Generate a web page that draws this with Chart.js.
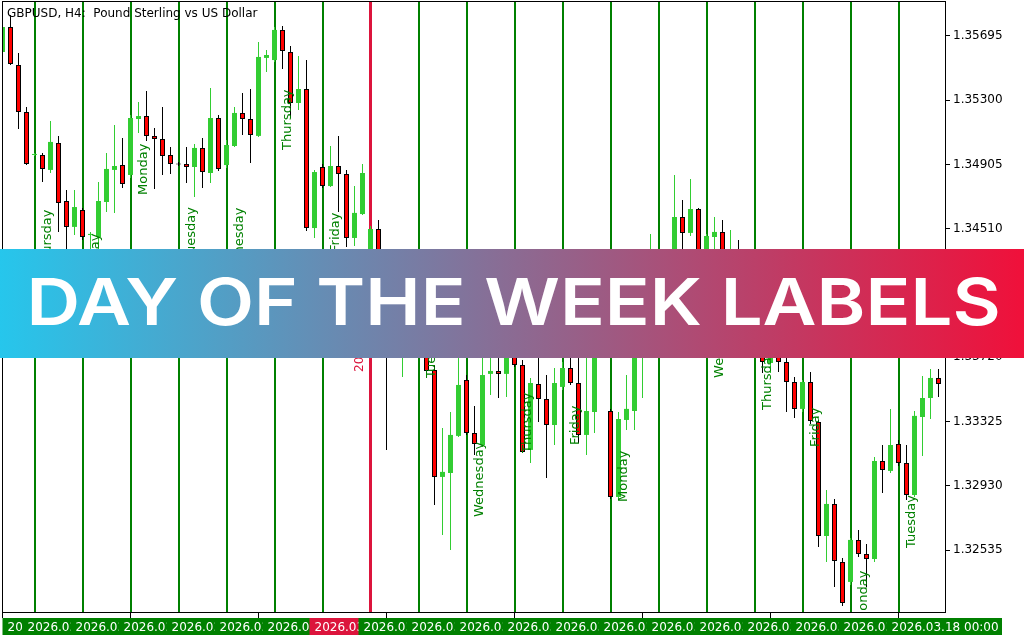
<!DOCTYPE html>
<html>
<head>
<meta charset="utf-8">
<style>
  html, body { margin: 0; padding: 0; background: #fff; }
  canvas { display: block; }
</style>
<script src="https://cdn.jsdelivr.net/npm/chart.js@4.4.1/dist/chart.umd.min.js"></script>
</head>
<body>
<canvas id="myChart" width="1024" height="640"></canvas>
<script>
const title = 'GBPUSD, H4:  Pound Sterling vs US Dollar';
const bannerText = 'DAY OF THE WEEK LABELS';

// H4 candles (index 0 = first bar on the left)
const open = [
  1.35596, 1.35749, 1.35516, 1.35227, 1.34963, 1.34963, 1.34871, 1.35037, 1.34680, 1.34521,
  1.34625, 1.34471, 1.34459, 1.34674, 1.34871, 1.34901, 1.34840, 1.35184, 1.35202, 1.35080,
  1.35061, 1.34963, 1.34908, 1.34908, 1.34889, 1.35006, 1.34852, 1.35190, 1.34901, 1.35018,
  1.35221, 1.35184, 1.35080, 1.35559, 1.35546, 1.35731, 1.35596, 1.35282, 1.35368, 1.34514,
  1.34889, 1.34772, 1.34895, 1.34846, 1.34453, 1.34600, 1.34226, 1.34508, 1.34134, 1.33888,
  1.33734, 1.33949, 1.33826, 1.33734, 1.33642, 1.32985, 1.33009, 1.33237, 1.33581, 1.33255,
  1.33181, 1.33618, 1.33636, 1.33618, 1.33796, 1.33673, 1.33151, 1.33556, 1.33464, 1.33304,
  1.33538, 1.33654, 1.33562, 1.33243, 1.33384, 1.33796, 1.33390, 1.32862, 1.33335, 1.33390,
  1.33796, 1.34072, 1.34306, 1.34349, 1.34287, 1.34582, 1.34484, 1.34631, 1.34318, 1.34459,
  1.34490, 1.34287, 1.34349, 1.34195, 1.33949, 1.33765, 1.33685, 1.33765, 1.33691, 1.33568,
  1.33403, 1.33568, 1.33323, 1.32622, 1.32819, 1.32463, 1.32340, 1.32598, 1.32512, 1.32481,
  1.33083, 1.33022, 1.33188, 1.33071, 1.32874, 1.33353, 1.33470, 1.33593
];
const high = [
  1.35768, 1.35823, 1.35589, 1.35258, 1.34975, 1.34975, 1.35172, 1.35080, 1.34748, 1.34748,
  1.34637, 1.34490, 1.34797, 1.34975, 1.35147, 1.35067, 1.35209, 1.35288, 1.35356, 1.35129,
  1.35258, 1.35012, 1.34920, 1.35012, 1.35030, 1.35067, 1.35374, 1.35209, 1.35055, 1.35258,
  1.35344, 1.35368, 1.35657, 1.35608, 1.35749, 1.35755, 1.35632, 1.35571, 1.35546, 1.34871,
  1.34908, 1.35018, 1.35080, 1.34871, 1.34772, 1.34908, 1.34527, 1.34564, 1.34164, 1.33949,
  1.34011, 1.33980, 1.33888, 1.33857, 1.33673, 1.33286, 1.33384, 1.33734, 1.33611, 1.33421,
  1.33765, 1.33796, 1.33765, 1.33888, 1.33857, 1.33704, 1.33593, 1.33765, 1.33611, 1.33654,
  1.33691, 1.33765, 1.33765, 1.33765, 1.33888, 1.33949, 1.33403, 1.33384, 1.33611, 1.33857,
  1.34134, 1.34478, 1.34367, 1.34373, 1.34840, 1.34686, 1.34815, 1.34637, 1.34478, 1.34582,
  1.34564, 1.34502, 1.34441, 1.34256, 1.34011, 1.33826, 1.33826, 1.33826, 1.33734, 1.33599,
  1.33581, 1.33630, 1.33335, 1.32905, 1.32850, 1.32487, 1.32610, 1.32659, 1.32573, 1.33108,
  1.33181, 1.33403, 1.33212, 1.33181, 1.33390, 1.33605, 1.33648, 1.33648
];
const low = [
  1.35577, 1.35516, 1.35123, 1.34901, 1.34957, 1.34797, 1.34852, 1.34490, 1.34385, 1.34471,
  1.34441, 1.34306, 1.34349, 1.34613, 1.34607, 1.34760, 1.34822, 1.35098, 1.35049, 1.34754,
  1.34840, 1.34846, 1.34895, 1.34791, 1.34705, 1.34760, 1.34791, 1.34865, 1.34883, 1.35012,
  1.35086, 1.34914, 1.35073, 1.35473, 1.35534, 1.35491, 1.35190, 1.35239, 1.34496, 1.34453,
  1.34760, 1.34766, 1.34613, 1.34398, 1.34404, 1.34594, 1.34195, 1.34072, 1.33151, 1.33734,
  1.33599, 1.33765, 1.33722, 1.33611, 1.32813, 1.32628, 1.32536, 1.33231, 1.33243, 1.33120,
  1.33169, 1.33489, 1.33470, 1.33476, 1.33661, 1.33132, 1.33071, 1.33323, 1.32979, 1.33181,
  1.33519, 1.33550, 1.33194, 1.33120, 1.33255, 1.33753, 1.32850, 1.32844, 1.33274, 1.33274,
  1.33470, 1.34041, 1.34195, 1.34226, 1.34269, 1.34349, 1.34465, 1.34287, 1.34256, 1.34379,
  1.34287, 1.34256, 1.34134, 1.33888, 1.33734, 1.33624, 1.33624, 1.33630, 1.33384, 1.33347,
  1.33384, 1.33310, 1.32555, 1.32463, 1.32309, 1.32192, 1.32321, 1.32493, 1.32309, 1.32463,
  1.32887, 1.33009, 1.33052, 1.32844, 1.32862, 1.33114, 1.33341, 1.33476
];
const close = [
  1.35749, 1.35522, 1.35227, 1.34908, 1.34969, 1.34877, 1.35043, 1.34668, 1.34521, 1.34643,
  1.34459, 1.34478, 1.34680, 1.34877, 1.34895, 1.34785, 1.35190, 1.35202, 1.35080, 1.35061,
  1.34957, 1.34908, 1.34905, 1.34889, 1.35006, 1.34858, 1.35190, 1.34877, 1.35024, 1.35221,
  1.35184, 1.35086, 1.35565, 1.35577, 1.35731, 1.35602, 1.35282, 1.35368, 1.34514, 1.34858,
  1.34772, 1.34895, 1.34846, 1.34453, 1.34607, 1.34852, 1.34508, 1.34134, 1.33888, 1.33796,
  1.33949, 1.33826, 1.33734, 1.33636, 1.32985, 1.33016, 1.33243, 1.33550, 1.33255, 1.33188,
  1.33611, 1.33636, 1.33618, 1.33796, 1.33673, 1.33138, 1.33562, 1.33464, 1.33304, 1.33562,
  1.33654, 1.33562, 1.33243, 1.33390, 1.33796, 1.33888, 1.32862, 1.33341, 1.33403, 1.33796,
  1.34072, 1.34306, 1.34349, 1.34287, 1.34582, 1.34484, 1.34631, 1.34318, 1.34465, 1.34490,
  1.34349, 1.34367, 1.34195, 1.33949, 1.33765, 1.33691, 1.33765, 1.33691, 1.33568, 1.33403,
  1.33568, 1.33329, 1.32622, 1.32819, 1.32469, 1.32211, 1.32598, 1.32512, 1.32481, 1.33083,
  1.33028, 1.33181, 1.33071, 1.32874, 1.33360, 1.33470, 1.33593, 1.33556
];

// day separators (bar index) and the weekday labels drawn next to them
const dayLines = [4, 10, 16, 22, 28, 34, 40, 46, 52, 58, 64, 70, 76, 82, 88, 94, 100, 106, 112];
const dayNames = ['Thursday', 'Friday', 'Monday', 'Tuesday', 'Wednesday', 'Thursday', 'Friday',
  'Monday', 'Tuesday', 'Wednesday', 'Thursday', 'Friday', 'Monday', 'Tuesday', 'Wednesday',
  'Thursday', 'Friday', 'Monday', 'Tuesday'];
const dayLabelPrice = [1.34256, 1.34238, 1.34717, 1.34318, 1.34177, 1.34994, 1.34367,
  1.33888, 1.33593, 1.32739, 1.33132, 1.33181, 1.32831, 1.33826, 1.33593, 1.33396,
  1.33169, 1.32094, 1.32549];
const redLine = 46;
const redLineText = '2026.03.03 00:00';
const redLinePrice = 1.33630;

const priceTicks = [1.35695, 1.35300, 1.34905, 1.34510, 1.34115, 1.33720, 1.33325, 1.32930, 1.32535];
const timeTicks = [0, 16, 32, 48, 64, 80, 96, 112];
const timeLabelAt = [1.5, 4, 10, 16, 22, 28, 34, 40, 46, 52, 58, 64, 70, 76, 82, 88, 94, 100, 106, 112];
const timeLabels = ['2026.02.19 00:00', '2026.02.20 00:00', '2026.02.23 00:00', '2026.02.24 00:00',
  '2026.02.25 00:00', '2026.02.26 00:00', '2026.02.27 00:00', '2026.03.02 00:00', '2026.03.03 00:00',
  '2026.03.04 00:00', '2026.03.05 00:00', '2026.03.06 00:00', '2026.03.09 00:00', '2026.03.10 00:00',
  '2026.03.11 00:00', '2026.03.12 00:00', '2026.03.13 00:00', '2026.03.16 00:00', '2026.03.17 00:00',
  '2026.03.18 00:00'];

const BULL = '#32CD32';
const BEAR = '#FF0000';
const DAYLINE = '#008000';
const CRIMSON = '#DC143C';

const isBull = open.map((o, i) => close[i] >= o);

const overlay = {
  id: 'overlay',
  afterDraw(chart) {
    const { ctx, chartArea: a, scales: { x, y } } = chart;

    // weekday labels, rotated
    ctx.save();
    ctx.beginPath();
    ctx.rect(a.left, a.top, a.right - a.left, a.bottom - a.top);
    ctx.clip();
    ctx.font = '13px "DejaVu Sans"';
    ctx.fillStyle = DAYLINE;
    ctx.textAlign = 'left';
    ctx.textBaseline = 'alphabetic';
    dayLines.forEach((d, i) => {
      ctx.save();
      ctx.translate(x.getPixelForValue(d) + 16, y.getPixelForValue(dayLabelPrice[i]));
      ctx.rotate(-Math.PI / 2);
      ctx.fillText(dayNames[i], 0, 0);
      ctx.restore();
    });
    ctx.font = '12px "DejaVu Sans"';
    ctx.fillStyle = CRIMSON;
    ctx.translate(x.getPixelForValue(redLine) - 8, y.getPixelForValue(redLinePrice));
    ctx.rotate(-Math.PI / 2);
    ctx.fillText(redLineText, 0, 0);
    ctx.restore();

    // title
    ctx.save();
    ctx.font = '12px "DejaVu Sans"';
    ctx.fillStyle = '#000';
    ctx.fillText(title, 7, 17);

    // frame + time ticks
    ctx.strokeStyle = '#000';
    ctx.lineWidth = 1;
    ctx.strokeRect(a.left - 0.5, a.top - 0.5, a.right - a.left, a.bottom - a.top);
    ctx.beginPath();
    timeTicks.forEach(t => {
      const px = x.getPixelForValue(t);
      ctx.moveTo(px, a.bottom);
      ctx.lineTo(px, a.bottom + 5);
    });
    ctx.stroke();

    // time labels strip
    const top = a.bottom + 5;
    ctx.fillStyle = DAYLINE;
    ctx.fillRect(a.left, top, 999, 17);
    ctx.textBaseline = 'alphabetic';
    timeLabelAt.forEach((t, i) => {
      const px = x.getPixelForValue(t);
      if (t === redLine) {
        ctx.fillStyle = CRIMSON;
        ctx.fillRect(px - 61, top, 120, 17);
        ctx.fillStyle = '#fff';
        ctx.fillText(redLineText, px - 56, top + 13);
      }
      ctx.fillStyle = DAYLINE;
      ctx.fillRect(px - 12, top, 113, 17);
      ctx.fillStyle = '#fff';
      ctx.fillText(timeLabels[i], px - 7, top + 13);
    });
    ctx.restore();

    // banner
    ctx.save();
    const g = ctx.createLinearGradient(0, 0, 1024, 0);
    g.addColorStop(0, '#26C6EC');
    g.addColorStop(1, '#F0103A');
    ctx.fillStyle = g;
    ctx.fillRect(0, 249, 1024, 109);
    ctx.font = '600 100px Inter';
    const capH = ctx.measureText('D').actualBoundingBoxAscent;
    const size = 47.5 / capH * 100;
    ctx.font = '600 ' + size.toFixed(2) + 'px Inter';
    const m = ctx.measureText(bannerText);
    const inkW = m.actualBoundingBoxLeft + m.actualBoundingBoxRight;
    const sx = 967 / inkW;
    ctx.translate(31 + m.actualBoundingBoxLeft * sx, 324.5);
    ctx.scale(sx, 1);
    ctx.fillStyle = '#fff';
    ctx.textAlign = 'left';
    ctx.textBaseline = 'alphabetic';
    ctx.fillText(bannerText, 0, 0);
    ctx.restore();
  }
};

Chart.defaults.font.family = 'DejaVu Sans';

const myChart = new Chart(document.getElementById('myChart'), {
  type: 'bar',
  data: {
    datasets: [
      {
        label: 'wick',
        data: open.map((o, i) => ({ x: i, y: [low[i], high[i]] })),
        backgroundColor: isBull.map(b => b ? BULL : '#000'),
        borderWidth: 0,
        barThickness: 1,
        grouped: false,
        inflateAmount: 0,
        order: 2
      },
      {
        label: 'body',
        data: open.map((o, i) => ({ x: i, y: [o, close[i]] })),
        backgroundColor: isBull.map(b => b ? BULL : BEAR),
        borderColor: isBull.map(b => b ? BULL : '#000'),
        borderWidth: isBull.map(b => b ? 0 : 1),
        borderSkipped: false,
        barThickness: 5,
        minBarLength: 1,
        grouped: false,
        inflateAmount: 0,
        order: 1
      }
    ]
  },
  options: {
    responsive: false,
    animation: false,
    devicePixelRatio: 1,
    layout: { padding: { left: 3, top: 2, right: 0, bottom: 0 } },
    plugins: {
      legend: { display: false },
      tooltip: { enabled: false },
      title: { display: false }
    },
    scales: {
      x: {
        type: 'linear',
        position: 'bottom',
        min: 0.0625,
        max: 117.9375,
        offset: false,
        z: 1,
        afterBuildTicks: axis => { axis.ticks = dayLines.map(v => ({ value: v })); },
        afterFit: axis => {
          axis.height = 27;
          axis.paddingLeft = 0;
          axis.paddingRight = 0;
        },
        ticks: { display: false },
        border: { display: false },
        grid: {
          offset: false,
          drawTicks: false,
          color: c => c.tick && c.tick.value === redLine ? CRIMSON : DAYLINE,
          lineWidth: c => c.tick && c.tick.value === redLine ? 3 : 2
        }
      },
      y: {
        type: 'linear',
        position: 'right',
        min: 1.321491,
        max: 1.359026,
        beginAtZero: false,
        afterBuildTicks: axis => { axis.ticks = priceTicks.map(v => ({ value: v })); },
        afterFit: axis => {
          axis.width = 78;
          axis.paddingTop = 0;
          axis.paddingBottom = 0;
        },
        ticks: {
          color: '#000',
          padding: 3,
          font: { size: 12, family: 'DejaVu Sans' },
          callback: v => Number(v).toFixed(5)
        },
        border: { display: false },
        grid: {
          drawOnChartArea: false,
          drawTicks: true,
          tickLength: 4,
          color: '#000'
        }
      }
    }
  },
  plugins: [overlay]
});
</script>
</body>
</html>
